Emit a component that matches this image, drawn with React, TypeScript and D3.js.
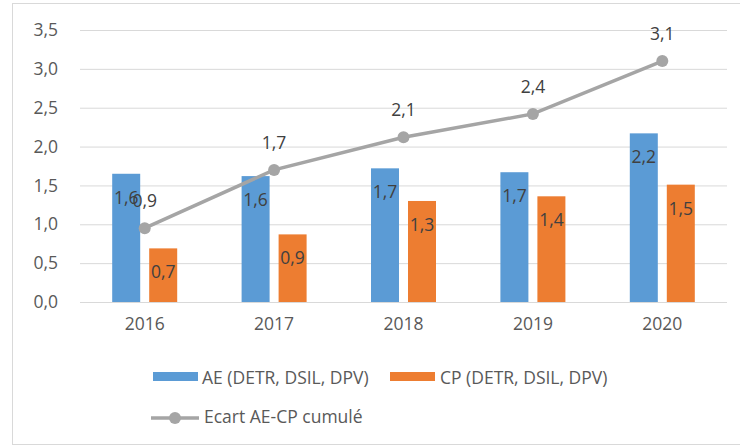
import { useEffect, useRef } from "react";
import * as d3 from "d3";

const years = ["2016", "2017", "2018", "2019", "2020"];
const aeValues = [1.65, 1.62, 1.72, 1.67, 2.17];
const cpValues = [0.69, 0.87, 1.3, 1.36, 1.51];
const gapValues = [0.95, 1.7, 2.12, 2.42, 3.1];
const yTicks = [0, 0.5, 1, 1.5, 2, 2.5, 3, 3.5];

const fmt = (v: number) => d3.format(".1f")(v).replace(".", ",");

export default function App() {
  const width = 740;
  const height = 447;
  const marginTop = 30;
  const marginRight = 13;
  const marginBottom = 145;
  const marginLeft = 80;
  const ref = useRef<SVGSVGElement>(null);

  useEffect(() => {
    const svg = d3.select(ref.current);
    svg.selectAll("*").remove();
    const font = "'Open Sans', 'DejaVu Sans', sans-serif";
    const fs = "17.5px";

    // outer frame
    svg
      .append("rect")
      .attr("x", 12.5)
      .attr("y", 3.5)
      .attr("width", 740)
      .attr("height", 441)
      .attr("fill", "white")
      .attr("stroke", "#d9d9d9");

    const x = d3
      .scaleBand()
      .domain(years)
      .range([marginLeft, width - marginRight]);

    const y = d3
      .scaleLinear()
      .domain([0, 3.5])
      .range([height - marginBottom, marginTop]);

    const barW = 28;
    const gap = 9;

    // grid + y labels
    svg
      .append("g")
      .attr("transform", `translate(${marginLeft}, 0)`)
      .call(
        d3
          .axisLeft(y)
          .tickValues(yTicks)
          .tickSize(-(width - marginLeft - marginRight))
          .tickFormat((d) => fmt(d as number)),
      )
      .call((g) => g.select(".domain").remove())
      .call((g) => g.selectAll(".tick line").attr("stroke", "#d9d9d9"))
      .call((g) =>
        g
          .selectAll(".tick text")
          .attr("x", -22)
          .attr("fill", "#595959")
          .style("font-size", fs)
          .style("font-family", font),
      );

    // x axis labels
    svg
      .append("g")
      .attr("transform", `translate(0, ${height - marginBottom})`)
      .call(d3.axisBottom(x).tickSize(0))
      .call((g) => g.select(".domain").remove())
      .call((g) =>
        g
          .selectAll(".tick text")
          .attr("dy", 25)
          .attr("fill", "#595959")
          .style("font-size", fs)
          .style("font-family", font),
      );

    const cx = (i: number) => x(years[i])! + x.bandwidth() / 2;

    const bars = [
      { values: aeValues, color: "#5b9bd5", off: -gap / 2 - barW },
      { values: cpValues, color: "#ed7d31", off: gap / 2 },
    ];

    bars.forEach((s) => {
      svg
        .append("g")
        .selectAll("rect")
        .data(s.values)
        .enter()
        .append("rect")
        .attr("x", (d, i) => cx(i) + s.off)
        .attr("y", (d) => y(d))
        .attr("width", barW)
        .attr("height", (d) => y(0) - y(d))
        .attr("fill", s.color);

      svg
        .append("g")
        .selectAll("text")
        .data(s.values)
        .enter()
        .append("text")
        .attr("x", (d, i) => cx(i) + s.off + barW / 2)
        .attr("y", (d) => y(d) + 30)
        .attr("text-anchor", "middle")
        .attr("fill", "#404040")
        .style("font-size", fs)
        .style("font-family", font)
        .text((d) => fmt(d));
    });

    // line
    const line = d3
      .line<number>()
      .x((d, i) => cx(i))
      .y((d) => y(d));

    svg
      .append("path")
      .datum(gapValues)
      .attr("d", line)
      .attr("fill", "none")
      .attr("stroke", "#a5a5a5")
      .attr("stroke-width", 3.5);

    svg
      .append("g")
      .selectAll("circle")
      .data(gapValues)
      .enter()
      .append("circle")
      .attr("cx", (d, i) => cx(i))
      .attr("cy", (d) => y(d))
      .attr("r", 6)
      .attr("fill", "#a5a5a5");

    svg
      .append("g")
      .selectAll("text")
      .data(gapValues)
      .enter()
      .append("text")
      .attr("x", (d, i) => cx(i))
      .attr("y", (d) => y(d) - 21)
      .attr("text-anchor", "middle")
      .attr("fill", "#404040")
      .style("font-size", fs)
      .style("font-family", font)
      .text((d) => fmt(d));

    // legend
    const legend = svg.append("g").style("font-family", font).style("font-size", fs);
    legend.append("rect").attr("x", 153).attr("y", 372).attr("width", 45).attr("height", 9).attr("fill", "#5b9bd5");
    legend.append("text").attr("x", 202).attr("y", 384).attr("fill", "#595959").text("AE (DETR, DSIL, DPV)");
    legend.append("rect").attr("x", 390).attr("y", 372).attr("width", 45).attr("height", 9).attr("fill", "#ed7d31");
    legend.append("text").attr("x", 440).attr("y", 384).attr("fill", "#595959").text("CP (DETR, DSIL, DPV)");
    legend.append("line").attr("x1", 151).attr("x2", 199).attr("y1", 418).attr("y2", 418).attr("stroke", "#a5a5a5").attr("stroke-width", 3.5);
    legend.append("circle").attr("cx", 175).attr("cy", 418).attr("r", 6).attr("fill", "#a5a5a5");
    legend.append("text").attr("x", 204).attr("y", 423).attr("fill", "#595959").text("Ecart AE-CP cumulé");
  }, []);

  return (
    <svg
      ref={ref}
      width={width}
      height={height}
      style={{ position: "absolute", left: 0, top: 0 }}
    />
  );
}
